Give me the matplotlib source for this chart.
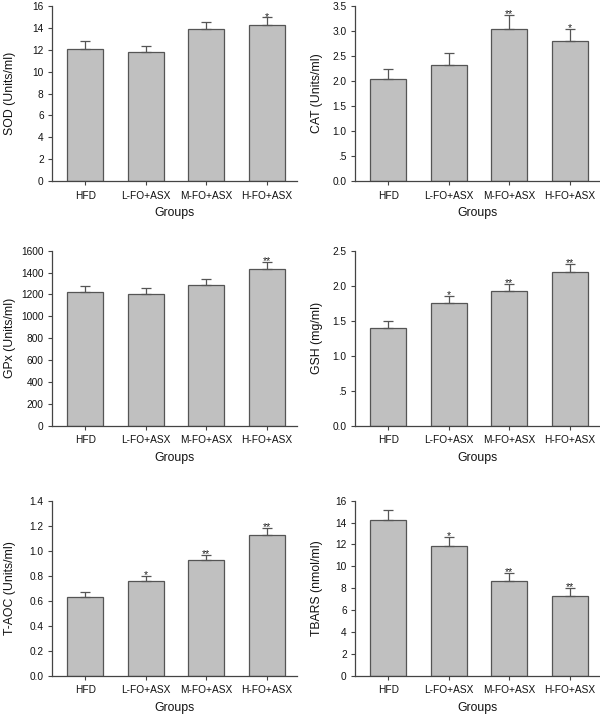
import matplotlib
matplotlib.use("Agg")
import matplotlib.pyplot as plt
from matplotlib.ticker import FixedLocator, FixedFormatter

plt.rcParams['font.family'] = ['Liberation Sans', 'DejaVu Sans']

groups = ["HFD", "L-FO+ASX", "M-FO+ASX", "H-FO+ASX"]

sod = [12.1, 11.75, 13.9, 14.3]
sod_err = [0.73, 0.6, 0.6, 0.65]
sod_sig = ["", "", "", "*"]

cat = [2.05, 2.33, 3.04, 2.80]
cat_err = [0.2, 0.22, 0.29, 0.25]
cat_sig = ["", "", "**", "*"]

gpx = [1220, 1207, 1284, 1433]
gpx_err = [57, 52, 54, 61]
gpx_sig = ["", "", "", "**"]

gsh = [1.39, 1.76, 1.92, 2.19]
gsh_err = [0.10, 0.10, 0.10, 0.12]
gsh_sig = ["", "*", "**", "**"]

taoc = [0.63, 0.757, 0.925, 1.125]
taoc_err = [0.037, 0.038, 0.043, 0.055]
taoc_sig = ["", "*", "**", "**"]

tbars = [14.23, 11.86, 8.66, 7.31]
tbars_err = [0.89, 0.82, 0.70, 0.68]
tbars_sig = ["", "*", "**", "**"]

sod_ticks = [0, 2, 4, 6, 8, 10, 12, 14, 16]
cat_ticks = [0.0, 0.5, 1.0, 1.5, 2.0, 2.5, 3.0, 3.5]
cat_ticklabels = ["0.0", ".5", "1.0", "1.5", "2.0", "2.5", "3.0", "3.5"]
gpx_ticks = [0, 200, 400, 600, 800, 1000, 1200, 1400, 1600]
gsh_ticks = [0.0, 0.5, 1.0, 1.5, 2.0, 2.5]
gsh_ticklabels = ["0.0", ".5", "1.0", "1.5", "2.0", "2.5"]
taoc_ticks = [0.0, 0.2, 0.4, 0.6, 0.8, 1.0, 1.2, 1.4]
taoc_ticklabels = ["0.0", "0.2", "0.4", "0.6", "0.8", "1.0", "1.2", "1.4"]
tbars_ticks = [0, 2, 4, 6, 8, 10, 12, 14, 16]

panels = [
    (sod, sod_err, sod_sig, "SOD (Units/ml)", sod_ticks, [str(t) for t in sod_ticks]),
    (cat, cat_err, cat_sig, "CAT (Units/ml)", cat_ticks, cat_ticklabels),
    (gpx, gpx_err, gpx_sig, "GPx (Units/ml)", gpx_ticks, [str(t) for t in gpx_ticks]),
    (gsh, gsh_err, gsh_sig, "GSH (mg/ml)", gsh_ticks, gsh_ticklabels),
    (taoc, taoc_err, taoc_sig, "T-AOC (Units/ml)", taoc_ticks, taoc_ticklabels),
    (tbars, tbars_err, tbars_sig, "TBARS (nmol/ml)", tbars_ticks, [str(t) for t in tbars_ticks]),
]

W, H = 600, 715
fig = plt.figure(figsize=(W / 100, H / 100), dpi=100)

lefts = [52, 355]
tops = [6, 250.7, 500.7]
aw, ah = 245, 175
ylabel_x = [-0.145, -0.13]

bar_color = "#c0c0c0"
edge_color = "#555555"
axis_color = "#444444"

for i, (vals, errs, sig, ylabel, ticks, ticklabels) in enumerate(panels):
    r, c = divmod(i, 2)
    ax = fig.add_axes([lefts[c] / W, 1 - (tops[r] + ah) / H, aw / W, ah / H])
    x = list(range(len(groups)))
    ax.bar(x, vals, width=0.6, color=bar_color, edgecolor=edge_color, linewidth=0.9, zorder=2)
    ax.errorbar(x, vals, yerr=[[0] * len(vals), errs], fmt='none', ecolor=edge_color,
                elinewidth=0.9, capsize=3.5, capthick=0.9, zorder=3)
    for xi, v, e, s in zip(x, vals, errs, sig):
        if s:
            ax.annotate(s, (xi, v + e), xytext=(0, -3), textcoords='offset points',
                        ha='center', va='bottom', fontsize=7.5, color='#222222')
    ax.set_xlim(-0.55, 3.5)
    ax.set_ylim(ticks[0], ticks[-1])
    ax.yaxis.set_major_locator(FixedLocator(ticks))
    ax.yaxis.set_major_formatter(FixedFormatter(ticklabels))
    ax.set_xticks(x)
    ax.set_xticklabels(groups)
    for sp in ['top', 'right']:
        ax.spines[sp].set_visible(False)
    for sp in ['left', 'bottom']:
        ax.spines[sp].set_color(axis_color)
        ax.spines[sp].set_linewidth(0.9)
    ax.tick_params(axis='both', length=3, width=0.8, color=axis_color, labelsize=7.3, pad=3,
                   labelcolor='#111111')
    ax.tick_params(axis='x', pad=4)
    ax.set_xlabel("Groups", fontsize=8.8, color='#111111')
    ax.set_ylabel(ylabel, fontsize=8.8, color='#111111')
    ax.xaxis.set_label_coords(0.5, -0.15)
    ax.yaxis.set_label_coords(ylabel_x[c], 0.5)

fig.savefig("out.png", dpi=100, facecolor='white')
